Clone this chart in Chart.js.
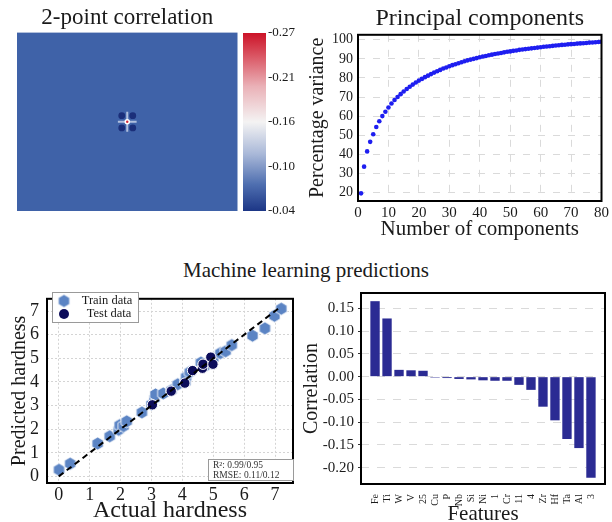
<!DOCTYPE html>
<html>
<head>
<meta charset="utf-8">
<script src="https://cdn.jsdelivr.net/npm/chart.js@4.4.1/dist/chart.umd.min.js"></script>
<style>
html, body { margin: 0; padding: 0; background: #fff; overflow: hidden; }
#page { position: relative; width: 612px; height: 522px; overflow: hidden; }
#page canvas { position: absolute; }
#mlTitle { position: absolute; left: 0; width: 612px; top: 258px; line-height: 24px; text-align: center;
           font-family: "Liberation Serif", "Times New Roman", serif; font-size: 21px; color: #1a1a1a; }
</style>
</head>
<body>
<div id="page">
  <canvas id="heat" width="243" height="222" style="left:0;top:0"></canvas>
  <canvas id="cbar" width="57" height="222" style="left:243px;top:0"></canvas>
  <canvas id="pca" width="312" height="250" style="left:300px;top:0"></canvas>
  <div id="mlTitle">Machine learning predictions</div>
  <canvas id="pred" width="300" height="250" style="left:0;top:280px"></canvas>
  <canvas id="corr" width="312" height="250" style="left:300px;top:280px"></canvas>
</div>
<script>
// 2-point correlation map: peak at the centre, four dark lobes round it
var heatPeakX = [0];
var heatPeakY = [0];
var heatLobeX = [-1, 1, -1, 1];
var heatLobeY = [1.1, 1.1, -1.1, -1.1];
var colorbarTicks = ['-0.27', '-0.21', '-0.16', '-0.10', '-0.04'];

// cumulative explained variance per number of components
var pcaComponents = [1, 2, 3, 4, 5, 6, 7, 8, 9, 10, 11, 12, 13, 14, 15, 16, 17, 18, 19, 20,
                     21, 22, 23, 24, 25, 26, 27, 28, 29, 30, 31, 32, 33, 34, 35, 36, 37, 38, 39, 40,
                     41, 42, 43, 44, 45, 46, 47, 48, 49, 50, 51, 52, 53, 54, 55, 56, 57, 58, 59, 60,
                     61, 62, 63, 64, 65, 66, 67, 68, 69, 70, 71, 72, 73, 74, 75, 76, 77, 78, 79, 80];
var pcaVariance = [19.5, 33.5, 41.5, 46.5, 50.5, 54.3, 57.3, 60.0, 62.3, 64.5,
                   66.6, 68.4, 70.0, 71.5, 72.9, 74.2, 75.4, 76.5, 77.6, 78.6,
                   79.5, 80.4, 81.2, 82.0, 82.8, 83.5, 84.2, 84.9, 85.5, 86.1,
                   86.7, 87.2, 87.7, 88.2, 88.7, 89.2, 89.6, 90.0, 90.4, 90.8,
                   91.2, 91.5, 91.9, 92.2, 92.5, 92.8, 93.1, 93.4, 93.7, 93.9,
                   94.2, 94.4, 94.7, 94.9, 95.1, 95.3, 95.5, 95.7, 95.9, 96.1,
                   96.3, 96.5, 96.6, 96.8, 97.0, 97.1, 97.3, 97.4, 97.6, 97.7,
                   97.8, 98.0, 98.1, 98.2, 98.3, 98.5, 98.6, 98.7, 98.8, 98.9];

// hardness predictions
var trainActual    = [0.01, 0.37, 1.26, 1.65, 1.94, 1.97, 2.10, 2.20, 2.69, 3.00, 3.10, 3.13, 3.38, 3.65,
                      3.85, 4.10, 4.12, 4.24, 4.60, 4.70, 5.00, 5.23, 5.40, 5.60, 6.27, 6.67, 6.98, 7.20];
var trainPredicted = [0.28, 0.54, 1.39, 1.70, 1.97, 2.17, 2.13, 2.33, 2.71, 3.05, 3.30, 3.47, 3.51, 3.65,
                      3.90, 4.00, 4.21, 4.42, 4.82, 4.65, 5.00, 5.22, 5.30, 5.56, 5.96, 6.27, 6.80, 7.10];
var testActual     = [3.03, 3.64, 4.08, 4.33, 4.65, 4.67, 4.92, 4.99];
var testPredicted  = [3.03, 3.61, 3.95, 4.48, 4.58, 4.75, 5.05, 4.75];
var parityLine     = [0, 7.1];
var scoreLines     = ['R\u00b2: 0.99/0.95', 'RMSE: 0.11/0.12'];

// feature correlation with hardness
var featureNames = ['Fe', 'Ti', 'W', 'V', '25', 'Cu', 'P', 'Nb', 'Si', 'Ni', '1', 'Cr', '11', '4', 'Zr', 'Hf', 'Ta', 'Al', '3'];
var featureCorrelation = [0.166, 0.128, 0.015, 0.014, 0.013, -0.002, -0.003, -0.005, -0.006, -0.008,
                          -0.009, -0.009, -0.018, -0.029, -0.066, -0.096, -0.137, -0.157, -0.222];

Chart.defaults.font.family = '"Liberation Serif", "Times New Roman", serif';
Chart.defaults.color = '#1a1a1a';
Chart.defaults.animation = false;
Chart.defaults.plugins.legend.display = false;
Chart.defaults.plugins.tooltip.enabled = false;

function xy(xs, ys) {
    var out = [];
    for (var i = 0; i < xs.length; i++) out.push({x: xs[i], y: ys[i]});
    return out;
}

function areaFill(color) {
    return {
        id: 'areaFill',
        beforeDatasetsDraw: function(chart) {
            var a = chart.chartArea, ctx = chart.ctx;
            ctx.save();
            ctx.fillStyle = color;
            ctx.fillRect(a.left, a.top, a.right - a.left, a.bottom - a.top);
            ctx.restore();
        }
    };
}

var frame = {
    id: 'frame',
    afterDraw: function(chart) {
        var a = chart.chartArea, ctx = chart.ctx;
        ctx.save();
        ctx.strokeStyle = '#000';
        ctx.lineWidth = 2;
        ctx.strokeRect(a.left, a.top, a.right - a.left, a.bottom - a.top);
        ctx.restore();
    }
};

function hexagonMarker(r, fill) {
    var c = document.createElement('canvas');
    var s = Math.ceil(r * 2 + 2);
    c.width = s; c.height = s;
    var g = c.getContext('2d');
    g.beginPath();
    for (var k = 0; k < 6; k++) {
        var ang = Math.PI / 3 * k - Math.PI / 2;
        g.lineTo(s / 2 + r * Math.cos(ang), s / 2 + r * Math.sin(ang));
    }
    g.closePath();
    g.fillStyle = fill;
    g.fill();
    g.strokeStyle = 'rgba(255,255,255,0.85)';
    g.lineWidth = 1;
    g.stroke();
    return c;
}

var trainColor = '#5b84c4';
var testColor = '#0c0c5a';
var hexMark = hexagonMarker(6.5, trainColor);

// ---- 2-point correlation ----
new Chart(document.getElementById('heat'), {
    type: 'scatter',
    data: {
        datasets: [
            {data: xy(heatPeakX, heatPeakY), pointRadius: 2, backgroundColor: '#d42a3a', borderColor: '#ffffff', borderWidth: 1.5},
            {data: [{x: -1.7, y: 0}, {x: 1.7, y: 0}], showLine: true, pointRadius: 0, borderColor: 'rgba(225,232,245,0.7)', borderWidth: 2},
            {data: [{x: 0, y: -1.8}, {x: 0, y: 1.8}], showLine: true, pointRadius: 0, borderColor: 'rgba(225,232,245,0.7)', borderWidth: 2},
            {data: xy(heatLobeX, heatLobeY), pointRadius: 3.4, backgroundColor: '#1b2f7a', borderWidth: 0}
        ]
    },
    options: {
        responsive: false,
        layout: {padding: {left: 17, right: 3, bottom: 11}},
        scales: {
            x: {display: false, min: -20, max: 20},
            y: {display: false, min: -16, max: 16}
        },
        plugins: {
            title: {display: true, text: '2-point correlation', fullSize: false,
                    font: {size: 23, weight: 'normal'}, padding: {top: 4, bottom: 1}}
        }
    },
    plugins: [areaFill('#3f62a8')]
});

// ---- colour bar ----
function colorbarFill(context) {
    var a = context.chart.chartArea;
    if (!a) return '#3f62a8';
    var g = context.chart.ctx.createLinearGradient(0, a.top, 0, a.bottom);
    g.addColorStop(0, '#cc1328');
    g.addColorStop(0.12, '#d9515f');
    g.addColorStop(0.3, '#eab1b7');
    g.addColorStop(0.5, '#f4f3f3');
    g.addColorStop(0.68, '#a9b8d8');
    g.addColorStop(0.85, '#4f6fb0');
    g.addColorStop(1, '#1c3686');
    return g;
}

new Chart(document.getElementById('cbar'), {
    type: 'bar',
    data: {
        labels: [''],
        datasets: [{data: [1], backgroundColor: colorbarFill, borderWidth: 0, barPercentage: 1, categoryPercentage: 1}]
    },
    options: {
        responsive: false,
        layout: {padding: {top: 33, bottom: 11}},
        scales: {
            x: {display: false},
            y: {display: false, min: 0, max: 1},
            yLab: {type: 'category', position: 'right', labels: colorbarTicks, offset: false,
                   grid: {display: false, drawTicks: false}, border: {display: false},
                   ticks: {padding: 2, font: {size: 13}, autoSkip: false},
                   afterFit: function(s) { s.width = 34; }}
        }
    }
});

// ---- principal components ----
new Chart(document.getElementById('pca'), {
    type: 'scatter',
    data: {
        datasets: [{data: xy(pcaComponents, pcaVariance), pointRadius: 2.3, backgroundColor: '#1e1ef0', borderWidth: 0}]
    },
    options: {
        responsive: false,
        layout: {padding: {right: 5}},
        scales: {
            x: {type: 'linear', min: 0, max: 80,
                ticks: {stepSize: 10, padding: 3, font: {size: 15}, includeBounds: false, autoSkip: false},
                grid: {color: '#dadada', drawTicks: false}, border: {display: false, dash: [7, 8]},
                title: {display: true, text: 'Number of components', font: {size: 21}, padding: {top: 0, bottom: 8}},
                afterFit: function(s) { s.height = 49; }},
            y: {min: 15.5, max: 102.6,
                ticks: {stepSize: 10, padding: 5, font: {size: 14}, includeBounds: false, autoSkip: false},
                grid: {color: '#dadada', drawTicks: false}, border: {display: false, dash: [7, 8]},
                title: {display: true, text: 'Percentage variance', font: {size: 20}, padding: {top: 6, bottom: 0}},
                afterFit: function(s) { s.width = 58; }}
        },
        plugins: {
            title: {display: true, text: 'Principal components', fullSize: false,
                    font: {size: 24, weight: 'normal'}, padding: {top: 4, bottom: 2}}
        }
    },
    plugins: [frame]
});

// ---- predicted vs actual hardness ----
var predBoxes = {
    id: 'predBoxes',
    afterDraw: function(chart) {
        var ctx = chart.ctx;
        ctx.save();
        // legend
        ctx.fillStyle = '#ffffff';
        ctx.strokeStyle = '#9a9a9a';
        ctx.lineWidth = 1;
        ctx.fillRect(52.5, 12.5, 86, 30);
        ctx.strokeRect(52.5, 12.5, 86, 30);
        ctx.drawImage(hexMark, 64 - hexMark.width / 2, 21 - hexMark.height / 2);
        ctx.beginPath();
        ctx.arc(64, 34, 5, 0, Math.PI * 2);
        ctx.fillStyle = testColor;
        ctx.fill();
        ctx.fillStyle = '#1a1a1a';
        ctx.font = '12.5px "Liberation Serif", serif';
        ctx.textBaseline = 'middle';
        ctx.textAlign = 'center';
        ctx.fillText('Train data', 107, 21);
        ctx.fillText('Test data', 109, 34);
        // scores
        ctx.fillStyle = '#ffffff';
        ctx.fillRect(208.5, 179.5, 85, 21);
        ctx.strokeRect(208.5, 179.5, 85, 21);
        ctx.fillStyle = '#333';
        ctx.font = '9.5px "Liberation Serif", serif';
        ctx.textAlign = 'left';
        ctx.fillText(scoreLines[0], 213, 185);
        ctx.fillText(scoreLines[1], 213, 195);
        ctx.restore();
    }
};

new Chart(document.getElementById('pred'), {
    type: 'scatter',
    data: {
        datasets: [
            {data: xy(parityLine, parityLine), showLine: true, pointRadius: 0, borderColor: '#000', borderWidth: 2, borderDash: [6, 4]},
            {data: xy(testActual, testPredicted), pointRadius: 5.2, backgroundColor: testColor, borderColor: '#ffffff', borderWidth: 1},
            {data: xy(trainActual, trainPredicted), pointStyle: hexMark, pointRadius: 6}
        ]
    },
    options: {
        responsive: false,
        layout: {padding: {top: 10, right: 3}},
        scales: {
            x: {min: -0.38, max: 7.58,
                ticks: {stepSize: 1, padding: 1, font: {size: 18}, includeBounds: false, autoSkip: false},
                grid: {color: '#d4d4d4', drawTicks: false}, border: {display: false, dash: [2, 2]},
                title: {display: true, text: 'Actual hardness', font: {size: 24}, padding: {top: 0, bottom: 5}},
                afterFit: function(s) { s.height = 47; }},
            y: {min: -0.28, max: 7.52,
                ticks: {stepSize: 1, padding: 8, font: {size: 18}, includeBounds: false, autoSkip: false},
                grid: {color: '#d4d4d4', drawTicks: false}, border: {display: false, dash: [2, 2]},
                title: {display: true, text: 'Predicted hardness', font: {size: 20}, padding: {top: 8, bottom: 0}},
                afterFit: function(s) { s.width = 47; }}
        }
    },
    plugins: [frame, predBoxes]
});

// ---- feature correlation ----
new Chart(document.getElementById('corr'), {
    type: 'bar',
    data: {
        datasets: [{data: xy(featureNames.map(function(n, i) { return i; }), featureCorrelation),
                    backgroundColor: '#2b2b93', borderWidth: 0, barPercentage: 0.78, categoryPercentage: 1}]
    },
    options: {
        responsive: false,
        layout: {padding: {top: 12, right: 7}},
        scales: {
            x: {type: 'linear', min: -1.17, max: 19.17, offset: false,
                afterBuildTicks: function(s) { s.ticks = featureNames.map(function(n, i) { return {value: i}; }); },
                ticks: {autoSkip: false, minRotation: 90, maxRotation: 90, padding: 2, font: {size: 10},
                        callback: function(v) { return featureNames[v]; }},
                grid: {display: false}, border: {display: false},
                title: {display: true, text: 'Features', font: {size: 21}, padding: {top: 0, bottom: 3}},
                afterFit: function(s) { s.height = 46; }},
            y: {min: -0.236, max: 0.184,
                ticks: {stepSize: 0.05, padding: 4, font: {size: 15}, includeBounds: false, autoSkip: false,
                        callback: function(v) { return Math.abs(v) < 1e-9 ? '0.00' : v.toFixed(2); }},
                grid: {color: '#dadada', tickLength: 3, tickColor: '#333'}, border: {display: false, dash: [8, 8]},
                title: {display: true, text: 'Correlation', font: {size: 20}, padding: {top: 0, bottom: 0}},
                afterFit: function(s) { s.width = 61; }}
        }
    },
    plugins: [frame]
});
</script>
</body>
</html>
